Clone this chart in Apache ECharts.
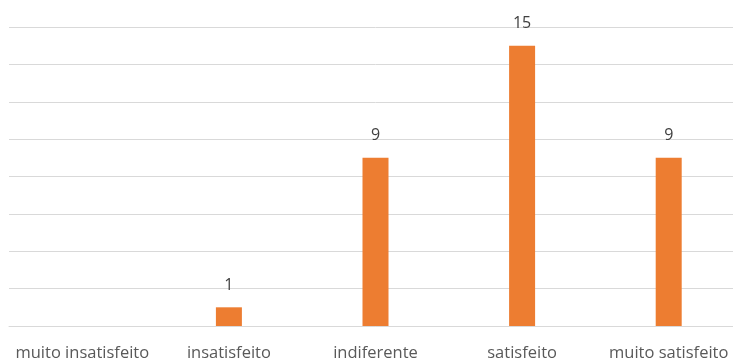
<!DOCTYPE html>
<html><head><meta charset="utf-8">
<script src="https://cdn.jsdelivr.net/npm/echarts@6/dist/echarts.min.js"></script>
<style>html,body{margin:0;padding:0;background:#fff;overflow:hidden}#c{width:742px;height:362px}</style>
</head><body><div id="c"></div>
<script>
const categories = ['muito insatisfeito', 'insatisfeito', 'indiferente', 'satisfeito', 'muito satisfeito'];
const values = [0, 1, 9, 15, 9];
const yMin = 0, yMax = 16, yStep = 2;

const chart = echarts.init(document.getElementById('c'));
chart.setOption({
  animation: false,
  grid: { left: 9, top: 27, right: 0, bottom: 35, containLabel: false },
  xAxis: {
    type: 'category', data: categories,
    axisLine: { show: true, lineStyle: { color: '#D9D9D9', width: 1 } },
    axisTick: { show: false },
    axisLabel: { color: '#595959', fontSize: 16.5, fontFamily: 'Open Sans', margin: 19, interval: 0 }
  },
  yAxis: {
    type: 'value', min: yMin, max: yMax, interval: yStep,
    axisLine: { show: false }, axisTick: { show: false }, axisLabel: { show: false },
    splitLine: { lineStyle: { color: '#D9D9D9', width: 1 } }
  },
  series: [{
    type: 'bar', data: values.map(v => v === 0 ? null : v), barWidth: 26,
    itemStyle: { color: '#ED7D31' },
    label: { show: true, position: 'top', distance: 14, color: '#404040', fontSize: 16, fontFamily: 'Open Sans' }
  }]
});
</script></body></html>
